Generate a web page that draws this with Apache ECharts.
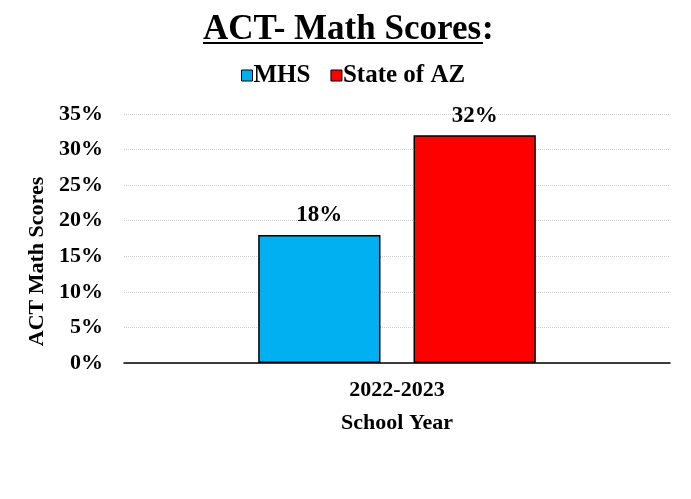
<!DOCTYPE html>
<html>
<head>
<meta charset="utf-8">
<script src="https://cdn.jsdelivr.net/npm/echarts@6/dist/echarts.min.js"></script>
<style>
  html, body { margin: 0; padding: 0; background: #fff; }
  #chart { width: 691px; height: 499px; }
</style>
</head>
<body>
<div id="chart"></div>
<script>
const years = ['2022-2023'];
const mhs = [18];
const stateAZ = [32];
const seriesNames = ['MHS', 'State of AZ'];

const serif = '"Liberation Serif", "Times New Roman", serif';

var dom = document.getElementById('chart');
var myChart = echarts.init(dom, null, { renderer: 'canvas' });

var option = {
  backgroundColor: '#fff',
  animation: false,
  textStyle: { fontFamily: serif },
  graphic: [
    {
      type: 'text',
      left: 203,
      top: 12,
      style: {
        text: 'ACT- Math Scores',
        font: 'bold 35px ' + serif,
        fill: '#000'
      }
    },
    {
      type: 'text',
      left: 482,
      top: 12,
      style: {
        text: ':',
        font: 'bold 35px ' + serif,
        fill: '#000'
      }
    },
    {
      type: 'rect',
      shape: { x: 203, y: 42, width: 280, height: 2 },
      style: { fill: '#000' }
    }
  ],
  legend: {
    top: 58,
    left: 236,
    itemWidth: 11,
    itemHeight: 11,
    itemGap: 20,
    icon: 'rect',
    textStyle: { fontFamily: serif, fontWeight: 'bold', fontSize: 25, color: '#000', padding: [2, 0, 0, -4] },
    itemStyle: { borderColor: '#000', borderWidth: 1 },
    data: seriesNames
  },
  grid: { left: 124, right: 21, top: 114, bottom: 136 },
  xAxis: {
    type: 'category',
    data: years,
    name: 'School Year',
    nameLocation: 'middle',
    nameGap: 49,
    nameTextStyle: { fontFamily: serif, fontWeight: 'bold', fontSize: 22, color: '#000' },
    axisLine: { lineStyle: { color: '#000', width: 1.5 } },
    axisTick: { show: false },
    axisLabel: { fontFamily: serif, fontWeight: 'bold', fontSize: 22, color: '#000', margin: 16 }
  },
  yAxis: {
    type: 'value',
    min: 0,
    max: 35,
    interval: 5,
    name: 'ACT Math Scores',
    nameLocation: 'middle',
    nameGap: 73,
    nameRotate: 90,
    nameTextStyle: { fontFamily: serif, fontWeight: 'bold', fontSize: 22, color: '#000', padding: [0, 46, 0, 0] },
    axisLine: { show: false },
    axisTick: { show: false },
    axisLabel: {
      fontFamily: serif, fontWeight: 'bold', fontSize: 22, color: '#000', margin: 21,
      formatter: '{value}%'
    },
    splitLine: { lineStyle: { color: '#cfcfcf', width: 1, type: 'dotted' } }
  },
  series: [
    {
      name: seriesNames[0],
      type: 'bar',
      data: mhs,
      barWidth: '22.4%',
      barGap: '27%',
      itemStyle: { color: '#00b0f0', borderColor: '#000', borderWidth: 1.5 },
      label: {
        show: true, position: 'top', distance: 8, formatter: '{c}%',
        fontFamily: serif, fontWeight: 'bold', fontSize: 23, color: '#000'
      }
    },
    {
      name: seriesNames[1],
      type: 'bar',
      data: stateAZ,
      barWidth: '22.4%',
      itemStyle: { color: '#ff0000', borderColor: '#000', borderWidth: 1.5 },
      label: {
        show: true, position: 'top', distance: 8, formatter: '{c}%',
        fontFamily: serif, fontWeight: 'bold', fontSize: 23, color: '#000'
      }
    }
  ]
};

myChart.setOption(option);
window.addEventListener('resize', myChart.resize);
</script>
</body>
</html>
